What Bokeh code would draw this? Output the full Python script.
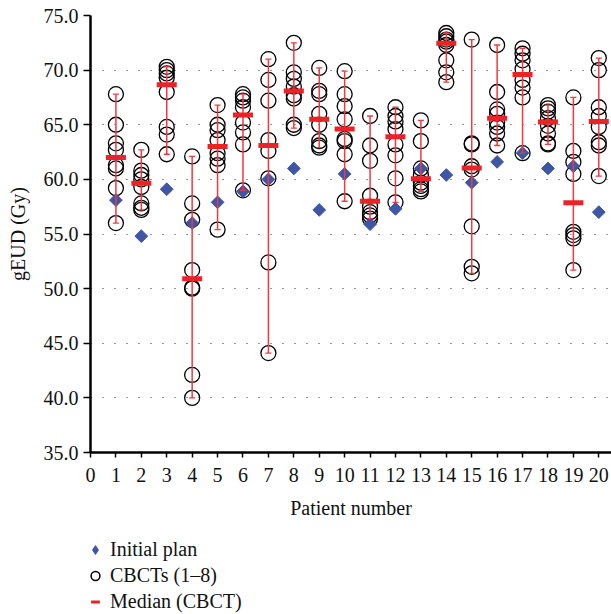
import numpy as np
from bokeh.plotting import figure
from bokeh.layouts import column
from bokeh.models import (Range1d, FixedTicker, PrintfTickFormatter,
                          Legend, LegendItem)
from bokeh.embed import file_html
from bokeh.resources import INLINE

# ---------------- data ----------------
patients = list(range(1, 21))
initial_plan = [58.1, 54.8, 59.1, 56.0, 57.9, 58.9, 60.0, 61.0, 57.2, 60.5,
                55.9, 57.3, 61.0, 60.4, 59.7, 61.6, 62.4, 61.0, 61.2, 57.0]

cbct_p01 = [67.8, 65.0, 63.3, 62.7, 61.3, 61.0, 59.2, 56.0]
cbct_p02 = [62.7, 60.8, 60.4, 60.0, 59.3, 57.8, 57.4, 57.2]
cbct_p03 = [70.3, 70.0, 69.7, 69.3, 68.0, 64.8, 64.1, 62.3]
cbct_p04 = [62.1, 57.8, 56.3, 51.7, 50.1, 50.0, 42.1, 40.0]
cbct_p05 = [66.8, 65.0, 64.5, 63.6, 62.4, 61.9, 61.3, 55.4]
cbct_p06 = [67.8, 67.5, 67.2, 66.6, 65.2, 64.3, 63.2, 59.0]
cbct_p07 = [71.0, 69.1, 67.2, 63.6, 62.6, 60.1, 52.4, 44.1]
cbct_p08 = [72.5, 69.8, 69.2, 68.5, 67.7, 67.4, 65.0, 64.7]
cbct_p09 = [70.2, 68.1, 67.8, 66.0, 65.0, 63.5, 63.1, 62.9]
cbct_p10 = [69.9, 67.8, 66.7, 65.5, 63.7, 63.5, 62.3, 58.0]
cbct_p11 = [65.8, 63.1, 61.7, 58.5, 57.5, 57.0, 56.7, 56.4]
cbct_p12 = [66.6, 65.8, 65.3, 64.6, 63.2, 62.2, 60.1, 57.9]
cbct_p13 = [65.4, 63.5, 61.0, 60.4, 59.7, 59.4, 59.1, 58.9]
cbct_p14 = [73.4, 73.1, 72.8, 72.6, 72.3, 70.9, 69.8, 68.9]
cbct_p15 = [72.8, 63.3, 63.2, 61.2, 60.9, 55.7, 52.0, 51.4]
cbct_p16 = [72.3, 68.0, 66.4, 66.0, 65.2, 64.8, 64.2, 63.1]
cbct_p17 = [72.0, 71.5, 70.9, 70.1, 69.1, 68.4, 67.5, 62.4]
cbct_p18 = [66.8, 66.5, 66.2, 65.6, 64.9, 64.2, 63.3, 63.2]
cbct_p19 = [67.5, 62.6, 61.6, 60.5, 55.2, 54.9, 54.6, 51.7]
cbct_p20 = [71.1, 70.0, 66.6, 65.8, 64.8, 63.4, 63.1, 60.3]

cbct_by_patient = [cbct_p01, cbct_p02, cbct_p03, cbct_p04, cbct_p05, cbct_p06, cbct_p07,
                   cbct_p08, cbct_p09, cbct_p10, cbct_p11, cbct_p12, cbct_p13, cbct_p14,
                   cbct_p15, cbct_p16, cbct_p17, cbct_p18, cbct_p19, cbct_p20]

x_ticks = list(range(0, 21))
y_ticks = [35, 40, 45, 50, 55, 60, 65, 70, 75]
legend_labels = ["Initial plan", "CBCTs (1–8)", "Median (CBCT)"]

# ---------------- derived ----------------
cx, cy = [], []
for pt, vals in zip(patients, cbct_by_patient):
    cx += [pt] * len(vals)
    cy += vals
med = [float(np.median(v)) for v in cbct_by_patient]
lo = [min(v) for v in cbct_by_patient]
hi = [max(v) for v in cbct_by_patient]

FONT = "Liberation Serif"
FS = "20px"
BLUE = "#3F55A5"
RED = "#EC2227"
ERR = "#EF3A3F"

p = figure(width=611, height=530, output_backend="svg", toolbar_location=None,
           x_range=Range1d(0, 20.5), y_range=Range1d(35, 75),
           min_border_left=90, min_border_right=0, min_border_top=15,
           min_border_bottom=78)
p.outline_line_color = None
p.background_fill_color = "white"
p.border_fill_color = "white"

# grid
p.xgrid.grid_line_color = None
p.ygrid.ticker = FixedTicker(ticks=y_ticks[1:])
p.ygrid.grid_line_color = "#333333"
p.ygrid.grid_line_dash = "1 11"
p.ygrid.grid_line_width = 1

# axes
for ax in (p.xaxis[0], p.yaxis[0]):
    ax.axis_line_width = 2.5
    ax.axis_line_color = "black"
    ax.major_tick_line_width = 1.5
    ax.major_tick_in = 0
    ax.minor_tick_line_color = None
    ax.major_label_text_font = FONT
    ax.major_label_text_font_size = FS
    ax.major_label_text_color = "#111111"
    ax.axis_label_text_font = FONT
    ax.axis_label_text_font_size = FS
    ax.axis_label_text_font_style = "normal"
    ax.axis_label_text_color = "#111111"

p.xaxis.ticker = FixedTicker(ticks=x_ticks)
p.xaxis.major_tick_out = 5
p.xaxis.major_label_standoff = 10
p.xaxis.axis_label = "Patient number"
p.xaxis.axis_label_standoff = 12

p.yaxis.ticker = FixedTicker(ticks=y_ticks)
p.yaxis.formatter = PrintfTickFormatter(format="%.1f")
p.yaxis.major_tick_out = 7
p.yaxis.major_label_standoff = 5
p.yaxis.axis_label = "gEUD (Gy)"
p.yaxis.axis_label_standoff = 12

# glyphs
p.scatter(x=cx, y=cy, marker="circle", size=15, fill_color=None,
          line_color="black", line_width=1.3)
p.scatter(x=patients, y=initial_plan, marker="square", size=9, angle=np.pi / 4,
          fill_color=BLUE, line_color=BLUE)
p.segment(x0=patients, y0=lo, x1=patients, y1=hi, line_color=ERR, line_width=1.5)
p.scatter(x=patients + patients, y=lo + hi, marker="dash", size=6,
          line_color=ERR, line_width=1.3)
p.scatter(x=patients, y=med, marker="dash", size=20, line_color=RED, line_width=5)

# ---------------- legend strip ----------------
q = figure(width=611, height=84, output_backend="svg", toolbar_location=None,
           x_range=Range1d(0, 1), y_range=Range1d(0, 1),
           x_axis_type=None, y_axis_type=None,
           min_border_left=0, min_border_right=0, min_border_top=0, min_border_bottom=0)
q.outline_line_color = None
q.xgrid.grid_line_color = None
q.ygrid.grid_line_color = None
q.border_fill_color = "white"

# hidden proxy renderers (legend swatches only)
r_init = q.scatter(x=[0.5], y=[0.5], marker="diamond", visible=False,
                   fill_color=BLUE, line_color=BLUE)
r_cbct = q.scatter(x=[0.5], y=[0.5], marker="circle", visible=False,
                   fill_color=None, line_color="black", line_width=1.5)
r_med = q.scatter(x=[0.5], y=[0.5], marker="dash", visible=False,
                  line_color=RED, line_width=3)

legend = Legend(items=[LegendItem(label=legend_labels[0], renderers=[r_init]),
                       LegendItem(label=legend_labels[1], renderers=[r_cbct]),
                       LegendItem(label=legend_labels[2], renderers=[r_med])],
                location=(-6, 1), orientation="vertical",
                glyph_width=22, glyph_height=23, spacing=3, padding=0, margin=0,
                label_standoff=4, label_text_font=FONT, label_text_font_size=FS,
                label_text_color="#111111", background_fill_alpha=0,
                border_line_color=None)
q.add_layout(legend, "center")

layout = column(p, q, spacing=0)
open("out.html", "w").write(file_html(layout, INLINE))
